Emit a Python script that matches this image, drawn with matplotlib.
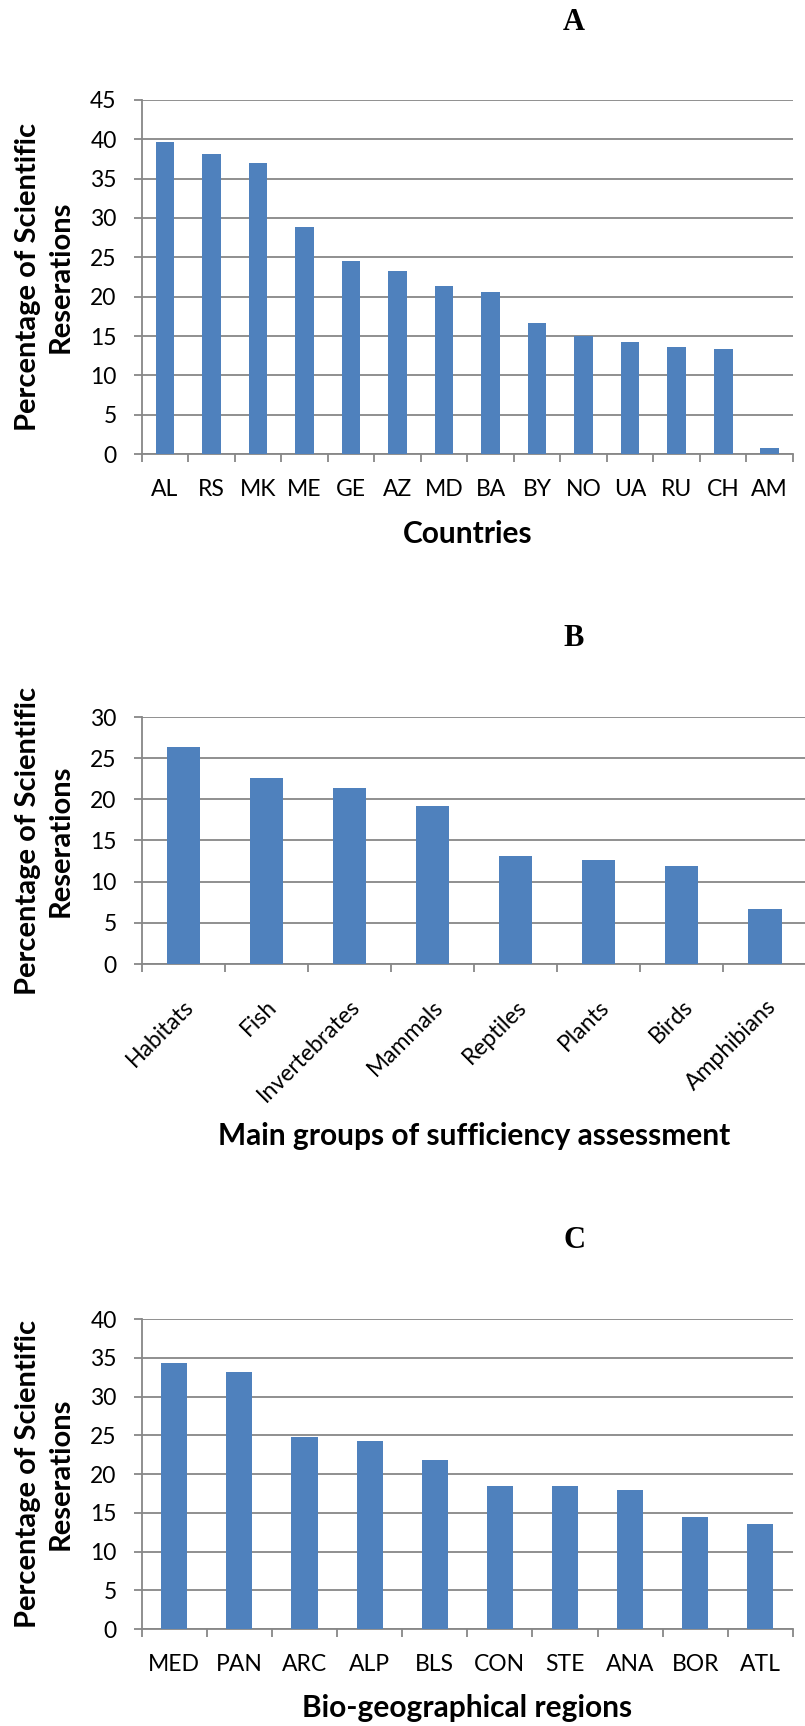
import numpy as np
import matplotlib
matplotlib.use("Agg")
import matplotlib.pyplot as plt

W, H = 805, 1726

countries = ["AL", "RS", "MK", "ME", "GE", "AZ", "MD", "BA", "BY", "NO", "UA", "RU", "CH", "AM"]
country_values = [39.7, 38.1, 37.0, 28.9, 24.5, 23.2, 21.4, 20.6, 16.6, 15.0, 14.2, 13.6, 13.4, 0.7]

groups = ["Habitats", "Fish", "Invertebrates", "Mammals", "Reptiles", "Plants", "Birds", "Amphibians"]
group_values = [26.3, 22.6, 21.35, 19.2, 13.1, 12.6, 11.95, 6.7]

regions = ["MED", "PAN", "ARC", "ALP", "BLS", "CON", "STE", "ANA", "BOR", "ATL"]
region_values = [34.3, 33.1, 24.8, 24.25, 21.75, 18.4, 18.4, 18.0, 14.4, 13.5]

BAR = "#4F81BD"
GRID = "#878787"
YLABEL = "Percentage of Scientific\nReserations"
TICK_FONT = 16.5


def fx(x):
    return x / W


def fy(y):
    return 1 - y / H


def panel(fig, box, labels, values, ymax, letter, title_y, xlabel, xlabel_y, rotate=False):
    left, top, right, bottom = box
    ax = fig.add_axes([fx(left), fy(bottom), fx(right) - fx(left), fy(top) - fy(bottom)])
    n = len(labels)
    x = np.arange(n)
    ax.bar(x, values, width=0.4, color=BAR, zorder=3)
    ax.set_xlim(-0.5, n - 0.5)
    ax.set_ylim(0, ymax)
    ax.set_yticks(np.arange(0, ymax + 1, 5))
    ax.grid(axis="y", color=GRID, linewidth=1.3, zorder=0)
    ax.set_axisbelow(True)

    # category boundaries carry the tick marks, centres carry the labels
    ax.set_xticks(np.arange(n + 1) - 0.5)
    ax.set_xticklabels([])
    ax.set_xticks(x, minor=True)
    if rotate:
        ax.set_xticklabels(labels, minor=True, rotation=45, ha="right",
                           rotation_mode="anchor", fontsize=16.5, family="Lato")
        ax.tick_params(axis="x", which="minor", length=0, pad=23)
    else:
        ax.set_xticklabels(labels, minor=True, fontsize=TICK_FONT, family="Lato")
        ax.tick_params(axis="x", which="minor", length=0, pad=18)
    ax.tick_params(axis="x", which="major", length=6, width=1.3, color=GRID, direction="out")
    ax.tick_params(axis="y", length=6, width=1.3, color=GRID, direction="out", pad=12,
                   labelsize=TICK_FONT)
    for t in ax.get_yticklabels():
        t.set_family("Lato")

    for s in ["top", "right"]:
        ax.spines[s].set_visible(False)
    for s in ["left", "bottom"]:
        ax.spines[s].set_color(GRID)
        ax.spines[s].set_linewidth(1.3)

    fig.text(fx(574), fy(title_y), letter, ha="center", va="center",
             fontsize=22, fontweight="bold", family="Liberation Serif")
    fig.text(fx(44), fy((top + bottom) / 2), YLABEL, rotation=90, ha="center", va="center",
             multialignment="center", fontsize=21, fontweight="bold", family="Lato",
             linespacing=1.3)
    fig.text(fx((left + right) / 2), fy(xlabel_y), xlabel, ha="center", va="center",
             fontsize=21.5, fontweight="bold", family="Lato")
    return ax


def main():
    fig = plt.figure(figsize=(W / 100, H / 100), dpi=100)

    panel(fig, (141.7, 100, 793, 454), countries, country_values, 45, "A", 22,
          "Countries", 534)
    panel(fig, (141.7, 717, 806.5, 964), groups, group_values, 30, "B", 638,
          "Main groups of sufficiency assessment", 1136, rotate=True)
    panel(fig, (141.7, 1319, 793, 1629), regions, region_values, 40, "C", 1240,
          "Bio-geographical regions", 1708)

    fig.savefig("out.png", dpi=100)


if __name__ == "__main__":
    main()
